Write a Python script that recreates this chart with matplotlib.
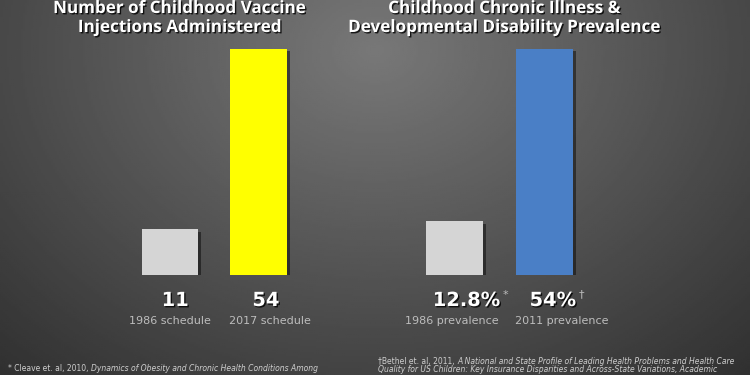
import numpy as np
import matplotlib
matplotlib.use("Agg")
import matplotlib.pyplot as plt
import matplotlib.patheffects as pe
from matplotlib.transforms import blended_transform_factory

# data
vacc_labels = ["1986 schedule", "2017 schedule"]
vacc_values = [11, 54]
vacc_text = ["11", "54"]
vacc_colors = ["#d5d5d5", "#ffff00"]

ill_labels = ["1986 prevalence", "2011 prevalence"]
ill_values = [12.8, 54]
ill_text = ["12.8%", "54%"]
ill_marks = ["*", "\u2020"]
ill_colors = ["#d5d5d5", "#4a7fc6"]

TITLE_FONT = "Open Sans"
BODY_FONT = "DejaVu Sans"

fig = plt.figure(figsize=(7.5, 3.75), dpi=100)

# background radial gradient
bg = fig.add_axes([0, 0, 1, 1], zorder=-10)
xx, yy = np.meshgrid(np.linspace(0, 750, 376), np.linspace(0, 375, 188))
d = np.sqrt(((xx - 375) / 420) ** 2 + ((yy - 50) / 330) ** 2)
shade = np.clip(0.47 - 0.21 * d, 0.17, 1)
bg.imshow(shade, cmap="gray", vmin=0, vmax=1, extent=[0, 750, 375, 0], aspect="auto")
bg.set_axis_off()

shadow = [pe.SimplePatchShadow(offset=(2, -2), shadow_rgbFace="black", alpha=0.45), pe.Normal()]
tshadow = [pe.withSimplePatchShadow(offset=(1.0, -1.0), shadow_rgbFace="black", alpha=0.8)]


def panel(left_px, unit_px, values, colors, texts, labels, val_dx, lab_dx, marks=None):
    ax = fig.add_axes([(left_px) / 750, 100 / 375, 3 * unit_px / 750, 226.5 / 375])
    ax.set_xlim(-1, 2)
    ax.set_ylim(0, 54)
    ax.set_axis_off()
    x = np.arange(len(values))
    bars = ax.bar(x, values, width=0.64, color=colors)
    for b in bars:
        b.set_path_effects(shadow)
    tr = blended_transform_factory(ax.transData, fig.transFigure)
    for i in x:
        t = ax.text(i + val_dx[i], 1 - 306 / 375, texts[i], transform=tr, ha="center",
                    va="baseline", color="white", fontsize=14, fontweight="bold",
                    family=BODY_FONT, path_effects=tshadow)
        if marks:
            ax.annotate(marks[i], xy=(1, 1), xycoords=t, xytext=(1.5, 1),
                        textcoords="offset points", ha="left", va="top",
                        color="#bbbbbb", fontsize=8, family=BODY_FONT)
        ax.text(i + lab_dx[i], 1 - 324 / 375, labels[i], transform=tr, ha="center",
                va="baseline", color="#bdbdbd", fontsize=8, family=BODY_FONT)
    return ax


panel(81.5, 88.5, vacc_values, vacc_colors, vacc_text, vacc_labels,
      [0.06, 0.085], [0.0, 0.13])
panel(364.5, 90, ill_values, ill_colors, ill_text, ill_labels,
      [0.135, 0.094], [-0.028, 0.194], marks=ill_marks)

# titles
for cx, lines in [(180, ["Number of Childhood Vaccine", "Injections Administered"]),
                  (505, ["Childhood Chronic Illness &", "Developmental Disability Prevalence"])]:
    for k, s in enumerate(lines):
        fig.text(cx / 750, 1 - (13 + 19 * k) / 375, s, ha="center", va="baseline",
                 color="white", fontsize=12.3, fontweight="bold", family=TITLE_FONT,
                 path_effects=tshadow)

# footnotes with italic titles
renderer = fig.canvas.get_renderer()


def mixed(x_px, y_px, parts):
    x = x_px
    for s, style in parts:
        t = fig.text(x / 750, 1 - y_px / 375, s, ha="left", va="baseline",
                     color="#cfcfcf", fontsize=5.5, style=style, family=BODY_FONT,
                     transform=fig.transFigure)
        bb = t.get_window_extent(renderer)
        x += bb.width


mixed(8, 371, [("* Cleave et. al, 2010, ", "normal"),
               ("Dynamics of Obesity and Chronic Health Conditions Among", "italic")])
mixed(378, 364, [("\u2020Bethel et. al, 2011, ", "normal"),
                 ("A National and State Profile of Leading Health Problems and Health Care", "italic")])
mixed(378, 372, [("Quality for US Children: Key Insurance Disparities and Across-State Variations, Academic", "italic")])

fig.savefig("out.png", dpi=100)
